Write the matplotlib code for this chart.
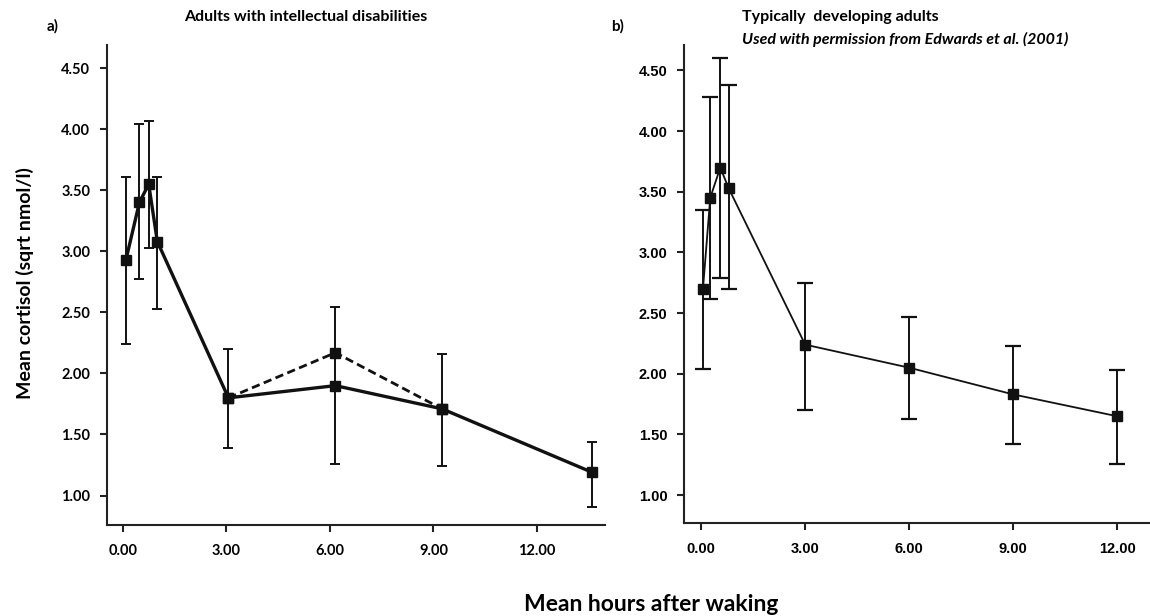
import matplotlib.pyplot as plt
import numpy as np

# panel a) adults with intellectual disabilities
id_hours = [0.09, 0.48, 0.75, 1.00, 3.06, 6.16, 9.25, 13.60]
id_mean = [2.93, 3.40, 3.55, 3.08, 1.80, 1.90, 1.71, 1.19]
id_upper = [3.61, 4.04, 4.07, 3.61, 2.20, 2.54, 2.16, 1.44]
id_lower = [2.24, 2.77, 3.03, 2.53, 1.39, 1.26, 1.24, 0.91]
# alternative (dashed) path through the 6h sample
alt_hours = [3.06, 6.16, 9.25]
alt_mean = [1.80, 2.17, 1.71]

# panel b) typically developing adults (Edwards et al. 2001)
td_hours = [0.05, 0.26, 0.55, 0.79, 3.00, 6.00, 9.00, 12.00]
td_mean = [2.70, 3.45, 3.70, 3.53, 2.24, 2.05, 1.83, 1.65]
td_upper = [3.35, 4.28, 4.60, 4.38, 2.75, 2.47, 2.23, 2.03]
td_lower = [2.04, 2.62, 2.79, 2.70, 1.70, 1.63, 1.42, 1.26]

x_ticks = [0, 3, 6, 9, 12]
y_ticks = [1.0, 1.5, 2.0, 2.5, 3.0, 3.5, 4.0, 4.5]

left_font = ['Lato', 'DejaVu Sans']
right_font = ['Liberation Sans', 'DejaVu Sans']

fig = plt.figure(figsize=(11.5, 6.16), dpi=100)
ax1 = fig.add_axes([0.093, 0.148, 0.433, 0.779])
ax2 = fig.add_axes([0.595, 0.151, 0.405, 0.776])


def style_axes(ax, xlim, ylim, family, size):
    ax.set_xlim(*xlim)
    ax.set_ylim(*ylim)
    ax.set_xticks(x_ticks)
    ax.set_yticks(y_ticks)
    ax.set_xticklabels([f"{v:.2f}" for v in x_ticks], family=family,
                       fontweight='bold', fontsize=size)
    ax.set_yticklabels([f"{v:.2f}" for v in y_ticks], family=family,
                       fontweight='bold', fontsize=size)
    for side in ['top', 'right']:
        ax.spines[side].set_visible(False)
    for side in ['left', 'bottom']:
        ax.spines[side].set_linewidth(1.5)
        ax.spines[side].set_color('#222222')
    ax.tick_params(axis='both', direction='out', length=5, width=1.5,
                   color='#222222')
    ax.tick_params(axis='x', pad=9)
    ax.tick_params(axis='y', pad=7)


# panel a
id_err = [np.array(id_mean) - np.array(id_lower),
          np.array(id_upper) - np.array(id_mean)]
ax1.errorbar(id_hours, id_mean, yerr=id_err, fmt='none', ecolor='#111111',
             elinewidth=1.4, capsize=3.5, capthick=1.4)
ax1.plot(alt_hours, alt_mean, linestyle=(0, (3, 1.6)), color='#111111',
         linewidth=2.0, marker='s', markersize=7)
ax1.plot(id_hours, id_mean, color='#111111', linewidth=2.4, marker='s',
         markersize=7)
style_axes(ax1, (-0.46, 13.97), (0.76, 4.69), left_font, 10.5)

# panel b
td_err = [np.array(td_mean) - np.array(td_lower),
          np.array(td_upper) - np.array(td_mean)]
ax2.errorbar(td_hours, td_mean, yerr=td_err, fmt='none', ecolor='#111111',
             elinewidth=1.4, capsize=5.5, capthick=1.6)
ax2.plot(td_hours, td_mean, color='#111111', linewidth=1.3, marker='s',
         markersize=7.5)
style_axes(ax2, (-0.49, 12.95), (0.77, 4.71), right_font, 10.5)

# titles and panel letters
fig.text(0.266, 0.972, 'Adults with intellectual disabilities', ha='center',
         va='center', family=left_font, fontweight='bold', fontsize=11.5)
fig.text(0.046, 0.958, 'a)', ha='center', va='center', family=left_font,
         fontweight='bold', fontsize=11)
fig.text(0.537, 0.958, 'b)', ha='center', va='center', family=left_font,
         fontweight='bold', fontsize=11)
fig.text(0.645, 0.972, 'Typically  developing adults', ha='left',
         va='center', family=left_font, fontweight='bold', fontsize=11.5)
fig.text(0.645, 0.936, 'Used with permission from Edwards et al. (2001)',
         ha='left', va='center', family=left_font, fontweight='bold',
         fontstyle='italic', fontsize=11.5)

# shared axis labels
fig.text(0.022, 0.54, 'Mean cortisol (sqrt nmol/l)', rotation=90,
         ha='center', va='center', family=left_font, fontweight='bold',
         fontsize=14)
fig.text(0.566, 0.018, 'Mean hours after waking', ha='center', va='center',
         family=left_font, fontweight='bold', fontsize=16.5)

fig.savefig('out.png', dpi=100)
